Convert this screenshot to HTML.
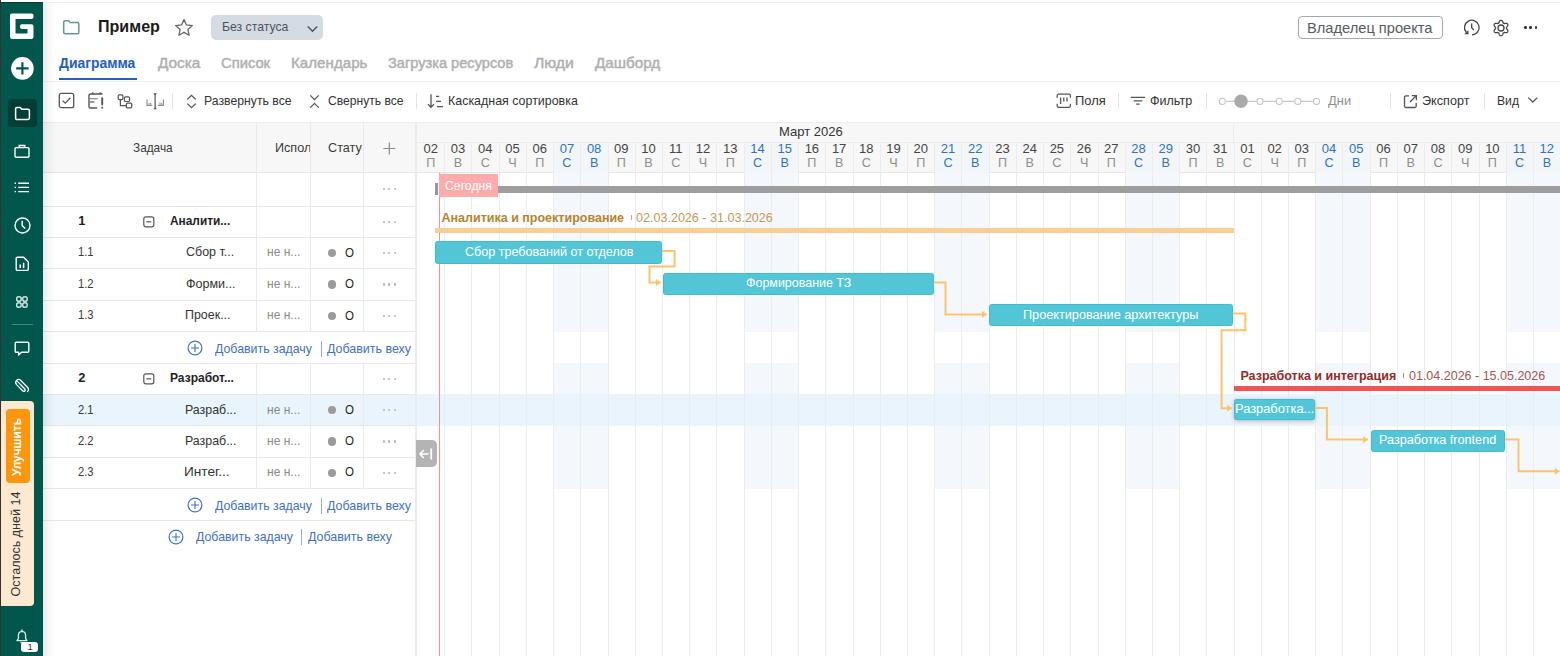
<!DOCTYPE html>
<html><head><meta charset="utf-8"><title>Gantt</title><style>
*{margin:0;padding:0;box-sizing:border-box}
html,body{width:1560px;height:656px;overflow:hidden;background:#fff}
body{position:relative;font-family:"Liberation Sans",sans-serif}
.t{position:absolute;white-space:nowrap}
.r{position:absolute}
.s{position:absolute;overflow:visible}
</style></head><body>
<div class="r" style="left:0.00px;top:2.00px;width:1560.00px;height:1.00px;background:#ececec;"></div>
<div class="r" style="left:42.80px;top:3.00px;width:14.00px;height:653.00px;background:linear-gradient(90deg, rgba(0,0,0,0.085), rgba(0,0,0,0.035) 35%, rgba(0,0,0,0));z-index:5;"></div>
<svg class="s" style="left:62.00px;top:19.00px;" width="19.00" height="16.00" viewBox="0 0 19.00 16.00"><path d="M1.7 3.2 Q1.7 1.7 3.2 1.7 H6.6 L8.3 3.6 H15.3 Q16.8 3.6 16.8 5.1 V13.3 Q16.8 14.8 15.3 14.8 H3.2 Q1.7 14.8 1.7 13.3 Z" fill="none" stroke="#5e9b93" stroke-width="1.5" stroke-linejoin="round"/></svg>
<div id="t1" class="t" style="left:97.84px;top:19.00px;font-size:16.80px;line-height:16.80px;color:#1b1b1b;font-weight:bold;transform:scaleX(0.9578);transform-origin:0 0;">Пример</div>
<svg class="s" style="left:174.00px;top:17.80px;" width="20.00" height="19.00" viewBox="0 0 20.00 19.00"><path d="M10 1.6 L12.45 6.95 L18.3 7.55 L13.9 11.5 L15.15 17.3 L10 14.35 L4.85 17.3 L6.1 11.5 L1.7 7.55 L7.55 6.95 Z" fill="none" stroke="#666" stroke-width="1.3" stroke-linejoin="round"/></svg>
<div class="r" style="left:210.80px;top:15.40px;width:111.80px;height:24.60px;background:#d5dbe2;border-radius:5px;"></div>
<div id="t2" class="t" style="left:222.04px;top:21.00px;font-size:12.80px;line-height:12.80px;color:#4b535d;transform:scaleX(0.9557);transform-origin:0 0;">Без статуса</div>
<svg class="s" style="left:306.00px;top:23.70px;" width="13.00" height="10.00" viewBox="0 0 13.00 10.00"><path d="M1.8 2.5 L6.5 7.2 L11.2 2.5" fill="none" stroke="#4b535d" stroke-width="1.4"/></svg>
<div class="r" style="left:1298.30px;top:16.40px;width:144.30px;height:22.80px;background:#fff;border:1.3px solid #a4aab0;border-radius:4px;box-sizing:border-box;"></div>
<div id="t3" class="t" style="left:1307.18px;top:21.00px;font-size:14.40px;line-height:14.40px;color:#555b62;transform:scaleX(1.0184);transform-origin:0 0;">Владелец проекта</div>
<svg class="s" style="left:1462.00px;top:18.00px;" width="20.00" height="20.00" viewBox="0 0 20.00 20.00"><path d="M10.05 16.80 A7.3 7.3 0 1 0 4.38 14.38" fill="none" stroke="#444" stroke-width="1.3"/><path d="M2.4 16.3 L6.6 16.3 L6.3 12.2 Z" fill="#444"/><path d="M9.7 5.6 V9.8 L11.9 12.1" fill="none" stroke="#444" stroke-width="1.3"/></svg>
<svg class="s" style="left:1492.20px;top:18.50px;" width="18.00" height="18.00" viewBox="0 0 18.00 18.00"><path d="M14.50 9.00 L14.49 9.29 L14.47 9.57 L14.71 9.90 L15.01 10.28 L15.33 10.70 L15.62 11.15 L15.84 11.62 L15.94 12.09 L15.77 12.45 L15.58 12.80 L15.37 13.14 L15.15 13.47 L14.69 13.61 L14.17 13.65 L13.63 13.63 L13.11 13.57 L12.64 13.49 L12.23 13.45 L12.00 13.61 L11.75 13.76 L11.50 13.90 L11.24 14.02 L11.07 14.39 L10.90 14.84 L10.70 15.33 L10.45 15.80 L10.15 16.23 L9.79 16.56 L9.40 16.59 L9.00 16.60 L8.60 16.59 L8.21 16.56 L7.85 16.23 L7.55 15.80 L7.30 15.33 L7.10 14.84 L6.93 14.39 L6.76 14.02 L6.50 13.90 L6.25 13.76 L6.00 13.61 L5.77 13.45 L5.36 13.49 L4.89 13.57 L4.37 13.63 L3.83 13.65 L3.31 13.61 L2.85 13.47 L2.63 13.14 L2.42 12.80 L2.23 12.45 L2.06 12.09 L2.16 11.62 L2.38 11.15 L2.67 10.70 L2.99 10.28 L3.29 9.90 L3.53 9.57 L3.51 9.29 L3.50 9.00 L3.51 8.71 L3.53 8.43 L3.29 8.10 L2.99 7.72 L2.67 7.30 L2.38 6.85 L2.16 6.38 L2.06 5.91 L2.23 5.55 L2.42 5.20 L2.63 4.86 L2.85 4.53 L3.31 4.39 L3.83 4.35 L4.37 4.37 L4.89 4.43 L5.36 4.51 L5.77 4.55 L6.00 4.39 L6.25 4.24 L6.50 4.10 L6.76 3.98 L6.93 3.61 L7.10 3.16 L7.30 2.67 L7.55 2.20 L7.85 1.77 L8.21 1.44 L8.60 1.41 L9.00 1.40 L9.40 1.41 L9.79 1.44 L10.15 1.77 L10.45 2.20 L10.70 2.67 L10.90 3.16 L11.07 3.61 L11.24 3.98 L11.50 4.10 L11.75 4.24 L12.00 4.39 L12.23 4.55 L12.64 4.51 L13.11 4.43 L13.63 4.37 L14.17 4.35 L14.69 4.39 L15.15 4.53 L15.37 4.86 L15.58 5.20 L15.77 5.55 L15.94 5.91 L15.84 6.38 L15.62 6.85 L15.33 7.30 L15.01 7.72 L14.71 8.10 L14.47 8.43 L14.49 8.71 Z" fill="none" stroke="#444" stroke-width="1.3" stroke-linejoin="round"/><circle cx="9" cy="9" r="3" fill="none" stroke="#444" stroke-width="1.3"/></svg>
<div class="r" style="left:1524.20px;top:26.30px;width:2.60px;height:2.60px;background:#333;border-radius:50%;"></div>
<div class="r" style="left:1529.40px;top:26.30px;width:2.60px;height:2.60px;background:#333;border-radius:50%;"></div>
<div class="r" style="left:1534.60px;top:26.30px;width:2.60px;height:2.60px;background:#333;border-radius:50%;"></div>
<div id="t4" class="t" style="left:58.90px;top:56.00px;font-size:14.40px;line-height:14.40px;color:#2360c3;font-weight:bold;transform:scaleX(0.9664);transform-origin:0 0;">Диаграмма</div>
<div class="r" style="left:58.90px;top:77.50px;width:78.00px;height:2.00px;background:#2360c3;"></div>
<div id="t5" class="t" style="left:157.70px;top:56.00px;font-size:14.40px;line-height:14.40px;color:#b0b0b0;transform:scaleX(1.0650);transform-origin:0 0;-webkit-text-stroke:0.45px #b0b0b0;">Доска</div>
<div id="t6" class="t" style="left:221.00px;top:56.00px;font-size:14.40px;line-height:14.40px;color:#b0b0b0;transform:scaleX(1.0250);transform-origin:0 0;-webkit-text-stroke:0.45px #b0b0b0;">Список</div>
<div id="t7" class="t" style="left:291.25px;top:56.00px;font-size:14.40px;line-height:14.40px;color:#b0b0b0;transform:scaleX(1.0529);transform-origin:0 0;-webkit-text-stroke:0.45px #b0b0b0;">Календарь</div>
<div id="t8" class="t" style="left:387.70px;top:56.00px;font-size:14.40px;line-height:14.40px;color:#b0b0b0;transform:scaleX(1.0146);transform-origin:0 0;-webkit-text-stroke:0.45px #b0b0b0;">Загрузка ресурсов</div>
<div id="t9" class="t" style="left:533.80px;top:56.00px;font-size:14.40px;line-height:14.40px;color:#b0b0b0;transform:scaleX(1.0959);transform-origin:0 0;-webkit-text-stroke:0.45px #b0b0b0;">Люди</div>
<div id="t10" class="t" style="left:595.40px;top:56.00px;font-size:14.40px;line-height:14.40px;color:#b0b0b0;transform:scaleX(1.0593);transform-origin:0 0;-webkit-text-stroke:0.45px #b0b0b0;">Дашборд</div>
<div class="r" style="left:43.00px;top:80.50px;width:1517.00px;height:1.00px;background:#efefef;"></div>
<svg class="s" style="left:58.00px;top:91.80px;" width="17.00" height="17.00" viewBox="0 0 17.00 17.00"><rect x="1.3" y="1.3" width="14.4" height="14.4" rx="2" fill="none" stroke="#555" stroke-width="1.3"/><path d="M4.6 8.6 L7.3 11.2 L12.4 5.8" fill="none" stroke="#555" stroke-width="1.3"/></svg>
<svg class="s" style="left:87.00px;top:90.50px;" width="18.00" height="19.00" viewBox="0 0 18.00 19.00"><path d="M10.2 17 H3.5 Q2 17 2 15.5 V4.5 Q2 3 3.5 3 H15.5" fill="none" stroke="#555" stroke-width="1.4"/><path d="M5.3 1.4 L6.6 3 M12.7 1.4 L14 3" stroke="#555" stroke-width="1.3"/><path d="M3 7.7 H10.8" stroke="#8a8a8a" stroke-width="1.2"/><path d="M3 11 H7.5" stroke="#555" stroke-width="1.2"/><path d="M15.2 7.2 V13.6" stroke="#555" stroke-width="1.9" stroke-linecap="round"/><circle cx="15.2" cy="16.7" r="1" fill="#555"/></svg>
<svg class="s" style="left:117.00px;top:94.00px;" width="16.00" height="15.00" viewBox="0 0 16.00 15.00"><rect x="1.2" y="0.9" width="4.7" height="4.7" rx="1" fill="none" stroke="#555" stroke-width="1.2"/><rect x="7.5" y="2.8" width="5" height="4.7" rx="1" fill="none" stroke="#555" stroke-width="1.2"/><rect x="9.4" y="9.2" width="5.3" height="4.6" rx="1" fill="none" stroke="#555" stroke-width="1.3"/><path d="M3.4 5.6 V11.6 H9.4" fill="none" stroke="#555" stroke-width="1.2"/></svg>
<svg class="s" style="left:145.00px;top:92.00px;" width="20.00" height="18.00" viewBox="0 0 20.00 18.00"><path d="M10.1 1.8 V16.6" stroke="#555" stroke-width="1.2"/><path d="M8.2 1.2 H12 L10.1 3.2 Z M8.2 17.2 H12 L10.1 15.2 Z" fill="#555"/><path d="M2 7.6 V13.4 H7.4 M18.4 7.6 V13.4 H13" fill="none" stroke="#8a8a8a" stroke-width="1.1"/><path d="M4 11 V12.6 M5.6 11 V12.6 M15 10.4 V12.6 M16.6 11.2 V12.6" stroke="#8a8a8a" stroke-width="1"/></svg>
<div class="r" style="left:172.30px;top:93.00px;width:1.00px;height:16.00px;background:#e3e3e3;"></div>
<svg class="s" style="left:186.00px;top:93.80px;" width="11.00" height="15.00" viewBox="0 0 11.00 15.00"><path d="M1.3 5.4 L5.5 1.4 L9.7 5.4 M1.3 9.6 L5.5 13.6 L9.7 9.6" fill="none" stroke="#555" stroke-width="1.3"/></svg>
<div id="t11" class="t" style="left:203.63px;top:95.00px;font-size:12.70px;line-height:12.70px;color:#333;transform:scaleX(0.9652);transform-origin:0 0;">Развернуть все</div>
<svg class="s" style="left:308.50px;top:93.80px;" width="11.00" height="15.00" viewBox="0 0 11.00 15.00"><path d="M1.3 1.4 L5.5 5.6 L9.7 1.4 M1.3 13.6 L5.5 9.4 L9.7 13.6" fill="none" stroke="#555" stroke-width="1.3"/></svg>
<div id="t12" class="t" style="left:327.50px;top:95.00px;font-size:12.70px;line-height:12.70px;color:#333;transform:scaleX(0.9544);transform-origin:0 0;">Свернуть все</div>
<div class="r" style="left:416.20px;top:93.00px;width:1.00px;height:16.00px;background:#e3e3e3;"></div>
<svg class="s" style="left:426.50px;top:93.00px;" width="17.00" height="16.00" viewBox="0 0 17.00 16.00"><path d="M4 1.2 V14.2 M1 11.2 L4 14.4 L7 11.2" fill="none" stroke="#555" stroke-width="1.3"/><path d="M9 3.4 H12.2 M9 8.4 H14 M10 13.6 H16" stroke="#555" stroke-width="1.2"/></svg>
<div id="t13" class="t" style="left:447.72px;top:95.00px;font-size:12.70px;line-height:12.70px;color:#333;transform:scaleX(0.9801);transform-origin:0 0;">Каскадная сортировка</div>
<svg class="s" style="left:1056.00px;top:93.00px;" width="16.00" height="16.00" viewBox="0 0 16.00 16.00"><path d="M1.2 4.8 V2.8 Q1.2 1.2 2.8 1.2 H12.8 Q14.4 1.2 14.4 2.8 V4.8 M1.2 10.8 V12.8 Q1.2 14.4 2.8 14.4 H12.8 Q14.4 14.4 14.4 12.8 V10.8" fill="none" stroke="#555" stroke-width="1.3"/><path d="M4.6 4.6 V11 M7.8 4.6 V8.6 M11 4.6 V8.6" stroke="#555" stroke-width="1.3"/></svg>
<div id="t14" class="t" style="left:1074.58px;top:95.00px;font-size:12.70px;line-height:12.70px;color:#333;transform:scaleX(1.0212);transform-origin:0 0;">Поля</div>
<div class="r" style="left:1117.80px;top:93.00px;width:1.00px;height:16.00px;background:#e3e3e3;"></div>
<svg class="s" style="left:1129.50px;top:95.50px;" width="16.00" height="10.00" viewBox="0 0 16.00 10.00"><path d="M0.8 1.4 H15 M3.6 4.8 H12.2 M6.2 8.2 H9.6" stroke="#555" stroke-width="1.3"/></svg>
<div id="t15" class="t" style="left:1150.20px;top:95.00px;font-size:12.70px;line-height:12.70px;color:#333;transform:scaleX(0.9891);transform-origin:0 0;">Фильтр</div>
<div class="r" style="left:1205.50px;top:93.00px;width:1.00px;height:16.00px;background:#e3e3e3;"></div>
<svg class="s" style="left:1218.00px;top:93.00px;" width="104.00" height="17.00" viewBox="0 0 104.00 17.00"><path d="M7.3 8.3 H98.5" stroke="#c8c8c8" stroke-width="1.2"/><circle cx="4.3" cy="8.3" r="3.1" fill="#fff" stroke="#c3c3c3" stroke-width="1.1"/><circle cx="42.0" cy="8.3" r="3.1" fill="#fff" stroke="#c3c3c3" stroke-width="1.1"/><circle cx="61.2" cy="8.3" r="3.1" fill="#fff" stroke="#c3c3c3" stroke-width="1.1"/><circle cx="79.8" cy="8.3" r="3.1" fill="#fff" stroke="#c3c3c3" stroke-width="1.1"/><circle cx="98.5" cy="8.3" r="3.1" fill="#fff" stroke="#c3c3c3" stroke-width="1.1"/><circle cx="23.0" cy="8.3" r="6.7" fill="#a9a9a9"/></svg>
<div id="t16" class="t" style="left:1328.40px;top:95.00px;font-size:12.70px;line-height:12.70px;color:#8f8f8f;transform:scaleX(1.0177);transform-origin:0 0;">Дни</div>
<div class="r" style="left:1390.00px;top:93.00px;width:1.00px;height:16.00px;background:#e3e3e3;"></div>
<svg class="s" style="left:1403.00px;top:93.50px;" width="15.00" height="15.00" viewBox="0 0 15.00 15.00"><path d="M6 1.8 H3 Q1.5 1.8 1.5 3.3 V12 Q1.5 13.5 3 13.5 H11.7 Q13.2 13.5 13.2 12 V9" fill="none" stroke="#555" stroke-width="1.3"/><path d="M7 8 L13 2 M8.8 1.6 H13.4 V6.2" fill="none" stroke="#555" stroke-width="1.3"/></svg>
<div id="t17" class="t" style="left:1422.40px;top:95.00px;font-size:12.70px;line-height:12.70px;color:#333;transform:scaleX(0.9946);transform-origin:0 0;">Экспорт</div>
<div class="r" style="left:1484.00px;top:93.00px;width:1.00px;height:16.00px;background:#e3e3e3;"></div>
<div id="t18" class="t" style="left:1496.64px;top:95.00px;font-size:12.70px;line-height:12.70px;color:#333;transform:scaleX(0.9579);transform-origin:0 0;">Вид</div>
<svg class="s" style="left:1526.50px;top:96.00px;" width="12.00" height="8.00" viewBox="0 0 12.00 8.00"><path d="M1.3 1.6 L5.8 6 L10.3 1.6" fill="none" stroke="#555" stroke-width="1.3"/></svg>
<div class="r" style="left:43.00px;top:122.60px;width:1517.00px;height:50.00px;background:#f7f7f7;"></div>
<div class="r" style="left:43.00px;top:122.10px;width:1517.00px;height:1.00px;background:#ececec;"></div>
<div class="r" style="left:43.00px;top:172.40px;width:1517.00px;height:1.00px;background:#e6e6e6;"></div>
<div class="r" style="left:553.30px;top:142.20px;width:27.22px;height:30.40px;background:#f3f6f9;"></div>
<div class="r" style="left:553.30px;top:172.60px;width:27.22px;height:33.40px;background:#f4f8fc;"></div>
<div class="r" style="left:553.30px;top:206.00px;width:27.22px;height:31.40px;background:#f4f8fc;"></div>
<div class="r" style="left:553.30px;top:237.40px;width:27.22px;height:31.40px;background:#f4f8fc;"></div>
<div class="r" style="left:553.30px;top:268.80px;width:27.22px;height:31.40px;background:#f4f8fc;"></div>
<div class="r" style="left:553.30px;top:300.20px;width:27.22px;height:31.40px;background:#f4f8fc;"></div>
<div class="r" style="left:553.30px;top:363.00px;width:27.22px;height:31.40px;background:#f4f8fc;"></div>
<div class="r" style="left:553.30px;top:425.80px;width:27.22px;height:31.40px;background:#f4f8fc;"></div>
<div class="r" style="left:553.30px;top:457.20px;width:27.22px;height:31.40px;background:#f4f8fc;"></div>
<div class="r" style="left:580.52px;top:142.20px;width:27.22px;height:30.40px;background:#f3f6f9;"></div>
<div class="r" style="left:580.52px;top:172.60px;width:27.22px;height:33.40px;background:#f4f8fc;"></div>
<div class="r" style="left:580.52px;top:206.00px;width:27.22px;height:31.40px;background:#f4f8fc;"></div>
<div class="r" style="left:580.52px;top:237.40px;width:27.22px;height:31.40px;background:#f4f8fc;"></div>
<div class="r" style="left:580.52px;top:268.80px;width:27.22px;height:31.40px;background:#f4f8fc;"></div>
<div class="r" style="left:580.52px;top:300.20px;width:27.22px;height:31.40px;background:#f4f8fc;"></div>
<div class="r" style="left:580.52px;top:363.00px;width:27.22px;height:31.40px;background:#f4f8fc;"></div>
<div class="r" style="left:580.52px;top:425.80px;width:27.22px;height:31.40px;background:#f4f8fc;"></div>
<div class="r" style="left:580.52px;top:457.20px;width:27.22px;height:31.40px;background:#f4f8fc;"></div>
<div class="r" style="left:743.84px;top:142.20px;width:27.22px;height:30.40px;background:#f3f6f9;"></div>
<div class="r" style="left:743.84px;top:172.60px;width:27.22px;height:33.40px;background:#f4f8fc;"></div>
<div class="r" style="left:743.84px;top:206.00px;width:27.22px;height:31.40px;background:#f4f8fc;"></div>
<div class="r" style="left:743.84px;top:237.40px;width:27.22px;height:31.40px;background:#f4f8fc;"></div>
<div class="r" style="left:743.84px;top:268.80px;width:27.22px;height:31.40px;background:#f4f8fc;"></div>
<div class="r" style="left:743.84px;top:300.20px;width:27.22px;height:31.40px;background:#f4f8fc;"></div>
<div class="r" style="left:743.84px;top:363.00px;width:27.22px;height:31.40px;background:#f4f8fc;"></div>
<div class="r" style="left:743.84px;top:425.80px;width:27.22px;height:31.40px;background:#f4f8fc;"></div>
<div class="r" style="left:743.84px;top:457.20px;width:27.22px;height:31.40px;background:#f4f8fc;"></div>
<div class="r" style="left:771.06px;top:142.20px;width:27.22px;height:30.40px;background:#f3f6f9;"></div>
<div class="r" style="left:771.06px;top:172.60px;width:27.22px;height:33.40px;background:#f4f8fc;"></div>
<div class="r" style="left:771.06px;top:206.00px;width:27.22px;height:31.40px;background:#f4f8fc;"></div>
<div class="r" style="left:771.06px;top:237.40px;width:27.22px;height:31.40px;background:#f4f8fc;"></div>
<div class="r" style="left:771.06px;top:268.80px;width:27.22px;height:31.40px;background:#f4f8fc;"></div>
<div class="r" style="left:771.06px;top:300.20px;width:27.22px;height:31.40px;background:#f4f8fc;"></div>
<div class="r" style="left:771.06px;top:363.00px;width:27.22px;height:31.40px;background:#f4f8fc;"></div>
<div class="r" style="left:771.06px;top:425.80px;width:27.22px;height:31.40px;background:#f4f8fc;"></div>
<div class="r" style="left:771.06px;top:457.20px;width:27.22px;height:31.40px;background:#f4f8fc;"></div>
<div class="r" style="left:934.38px;top:142.20px;width:27.22px;height:30.40px;background:#f3f6f9;"></div>
<div class="r" style="left:934.38px;top:172.60px;width:27.22px;height:33.40px;background:#f4f8fc;"></div>
<div class="r" style="left:934.38px;top:206.00px;width:27.22px;height:31.40px;background:#f4f8fc;"></div>
<div class="r" style="left:934.38px;top:237.40px;width:27.22px;height:31.40px;background:#f4f8fc;"></div>
<div class="r" style="left:934.38px;top:268.80px;width:27.22px;height:31.40px;background:#f4f8fc;"></div>
<div class="r" style="left:934.38px;top:300.20px;width:27.22px;height:31.40px;background:#f4f8fc;"></div>
<div class="r" style="left:934.38px;top:363.00px;width:27.22px;height:31.40px;background:#f4f8fc;"></div>
<div class="r" style="left:934.38px;top:425.80px;width:27.22px;height:31.40px;background:#f4f8fc;"></div>
<div class="r" style="left:934.38px;top:457.20px;width:27.22px;height:31.40px;background:#f4f8fc;"></div>
<div class="r" style="left:961.60px;top:142.20px;width:27.22px;height:30.40px;background:#f3f6f9;"></div>
<div class="r" style="left:961.60px;top:172.60px;width:27.22px;height:33.40px;background:#f4f8fc;"></div>
<div class="r" style="left:961.60px;top:206.00px;width:27.22px;height:31.40px;background:#f4f8fc;"></div>
<div class="r" style="left:961.60px;top:237.40px;width:27.22px;height:31.40px;background:#f4f8fc;"></div>
<div class="r" style="left:961.60px;top:268.80px;width:27.22px;height:31.40px;background:#f4f8fc;"></div>
<div class="r" style="left:961.60px;top:300.20px;width:27.22px;height:31.40px;background:#f4f8fc;"></div>
<div class="r" style="left:961.60px;top:363.00px;width:27.22px;height:31.40px;background:#f4f8fc;"></div>
<div class="r" style="left:961.60px;top:425.80px;width:27.22px;height:31.40px;background:#f4f8fc;"></div>
<div class="r" style="left:961.60px;top:457.20px;width:27.22px;height:31.40px;background:#f4f8fc;"></div>
<div class="r" style="left:1124.92px;top:142.20px;width:27.22px;height:30.40px;background:#f3f6f9;"></div>
<div class="r" style="left:1124.92px;top:172.60px;width:27.22px;height:33.40px;background:#f4f8fc;"></div>
<div class="r" style="left:1124.92px;top:206.00px;width:27.22px;height:31.40px;background:#f4f8fc;"></div>
<div class="r" style="left:1124.92px;top:237.40px;width:27.22px;height:31.40px;background:#f4f8fc;"></div>
<div class="r" style="left:1124.92px;top:268.80px;width:27.22px;height:31.40px;background:#f4f8fc;"></div>
<div class="r" style="left:1124.92px;top:300.20px;width:27.22px;height:31.40px;background:#f4f8fc;"></div>
<div class="r" style="left:1124.92px;top:363.00px;width:27.22px;height:31.40px;background:#f4f8fc;"></div>
<div class="r" style="left:1124.92px;top:425.80px;width:27.22px;height:31.40px;background:#f4f8fc;"></div>
<div class="r" style="left:1124.92px;top:457.20px;width:27.22px;height:31.40px;background:#f4f8fc;"></div>
<div class="r" style="left:1152.14px;top:142.20px;width:27.22px;height:30.40px;background:#f3f6f9;"></div>
<div class="r" style="left:1152.14px;top:172.60px;width:27.22px;height:33.40px;background:#f4f8fc;"></div>
<div class="r" style="left:1152.14px;top:206.00px;width:27.22px;height:31.40px;background:#f4f8fc;"></div>
<div class="r" style="left:1152.14px;top:237.40px;width:27.22px;height:31.40px;background:#f4f8fc;"></div>
<div class="r" style="left:1152.14px;top:268.80px;width:27.22px;height:31.40px;background:#f4f8fc;"></div>
<div class="r" style="left:1152.14px;top:300.20px;width:27.22px;height:31.40px;background:#f4f8fc;"></div>
<div class="r" style="left:1152.14px;top:363.00px;width:27.22px;height:31.40px;background:#f4f8fc;"></div>
<div class="r" style="left:1152.14px;top:425.80px;width:27.22px;height:31.40px;background:#f4f8fc;"></div>
<div class="r" style="left:1152.14px;top:457.20px;width:27.22px;height:31.40px;background:#f4f8fc;"></div>
<div class="r" style="left:1315.46px;top:142.20px;width:27.22px;height:30.40px;background:#f3f6f9;"></div>
<div class="r" style="left:1315.46px;top:172.60px;width:27.22px;height:33.40px;background:#f4f8fc;"></div>
<div class="r" style="left:1315.46px;top:206.00px;width:27.22px;height:31.40px;background:#f4f8fc;"></div>
<div class="r" style="left:1315.46px;top:237.40px;width:27.22px;height:31.40px;background:#f4f8fc;"></div>
<div class="r" style="left:1315.46px;top:268.80px;width:27.22px;height:31.40px;background:#f4f8fc;"></div>
<div class="r" style="left:1315.46px;top:300.20px;width:27.22px;height:31.40px;background:#f4f8fc;"></div>
<div class="r" style="left:1315.46px;top:363.00px;width:27.22px;height:31.40px;background:#f4f8fc;"></div>
<div class="r" style="left:1315.46px;top:425.80px;width:27.22px;height:31.40px;background:#f4f8fc;"></div>
<div class="r" style="left:1315.46px;top:457.20px;width:27.22px;height:31.40px;background:#f4f8fc;"></div>
<div class="r" style="left:1342.68px;top:142.20px;width:27.22px;height:30.40px;background:#f3f6f9;"></div>
<div class="r" style="left:1342.68px;top:172.60px;width:27.22px;height:33.40px;background:#f4f8fc;"></div>
<div class="r" style="left:1342.68px;top:206.00px;width:27.22px;height:31.40px;background:#f4f8fc;"></div>
<div class="r" style="left:1342.68px;top:237.40px;width:27.22px;height:31.40px;background:#f4f8fc;"></div>
<div class="r" style="left:1342.68px;top:268.80px;width:27.22px;height:31.40px;background:#f4f8fc;"></div>
<div class="r" style="left:1342.68px;top:300.20px;width:27.22px;height:31.40px;background:#f4f8fc;"></div>
<div class="r" style="left:1342.68px;top:363.00px;width:27.22px;height:31.40px;background:#f4f8fc;"></div>
<div class="r" style="left:1342.68px;top:425.80px;width:27.22px;height:31.40px;background:#f4f8fc;"></div>
<div class="r" style="left:1342.68px;top:457.20px;width:27.22px;height:31.40px;background:#f4f8fc;"></div>
<div class="r" style="left:1506.00px;top:142.20px;width:27.22px;height:30.40px;background:#f3f6f9;"></div>
<div class="r" style="left:1506.00px;top:172.60px;width:27.22px;height:33.40px;background:#f4f8fc;"></div>
<div class="r" style="left:1506.00px;top:206.00px;width:27.22px;height:31.40px;background:#f4f8fc;"></div>
<div class="r" style="left:1506.00px;top:237.40px;width:27.22px;height:31.40px;background:#f4f8fc;"></div>
<div class="r" style="left:1506.00px;top:268.80px;width:27.22px;height:31.40px;background:#f4f8fc;"></div>
<div class="r" style="left:1506.00px;top:300.20px;width:27.22px;height:31.40px;background:#f4f8fc;"></div>
<div class="r" style="left:1506.00px;top:363.00px;width:27.22px;height:31.40px;background:#f4f8fc;"></div>
<div class="r" style="left:1506.00px;top:425.80px;width:27.22px;height:31.40px;background:#f4f8fc;"></div>
<div class="r" style="left:1506.00px;top:457.20px;width:27.22px;height:31.40px;background:#f4f8fc;"></div>
<div class="r" style="left:1533.22px;top:142.20px;width:27.22px;height:30.40px;background:#f3f6f9;"></div>
<div class="r" style="left:1533.22px;top:172.60px;width:27.22px;height:33.40px;background:#f4f8fc;"></div>
<div class="r" style="left:1533.22px;top:206.00px;width:27.22px;height:31.40px;background:#f4f8fc;"></div>
<div class="r" style="left:1533.22px;top:237.40px;width:27.22px;height:31.40px;background:#f4f8fc;"></div>
<div class="r" style="left:1533.22px;top:268.80px;width:27.22px;height:31.40px;background:#f4f8fc;"></div>
<div class="r" style="left:1533.22px;top:300.20px;width:27.22px;height:31.40px;background:#f4f8fc;"></div>
<div class="r" style="left:1533.22px;top:363.00px;width:27.22px;height:31.40px;background:#f4f8fc;"></div>
<div class="r" style="left:1533.22px;top:425.80px;width:27.22px;height:31.40px;background:#f4f8fc;"></div>
<div class="r" style="left:1533.22px;top:457.20px;width:27.22px;height:31.40px;background:#f4f8fc;"></div>
<div class="r" style="left:43.00px;top:394.40px;width:1517.00px;height:31.40px;background:#e9f4fd;"></div>
<div class="r" style="left:444.22px;top:142.20px;width:1.00px;height:513.80px;background:#ececec;"></div>
<div class="r" style="left:471.44px;top:142.20px;width:1.00px;height:513.80px;background:#ececec;"></div>
<div class="r" style="left:498.66px;top:142.20px;width:1.00px;height:513.80px;background:#ececec;"></div>
<div class="r" style="left:525.88px;top:142.20px;width:1.00px;height:513.80px;background:#ececec;"></div>
<div class="r" style="left:553.10px;top:142.20px;width:1.00px;height:513.80px;background:#ececec;"></div>
<div class="r" style="left:580.32px;top:142.20px;width:1.00px;height:513.80px;background:#ececec;"></div>
<div class="r" style="left:607.54px;top:142.20px;width:1.00px;height:513.80px;background:#ececec;"></div>
<div class="r" style="left:634.76px;top:142.20px;width:1.00px;height:513.80px;background:#ececec;"></div>
<div class="r" style="left:661.98px;top:142.20px;width:1.00px;height:513.80px;background:#ececec;"></div>
<div class="r" style="left:689.20px;top:142.20px;width:1.00px;height:513.80px;background:#ececec;"></div>
<div class="r" style="left:716.42px;top:142.20px;width:1.00px;height:513.80px;background:#ececec;"></div>
<div class="r" style="left:743.64px;top:142.20px;width:1.00px;height:513.80px;background:#ececec;"></div>
<div class="r" style="left:770.86px;top:142.20px;width:1.00px;height:513.80px;background:#ececec;"></div>
<div class="r" style="left:798.08px;top:142.20px;width:1.00px;height:513.80px;background:#ececec;"></div>
<div class="r" style="left:825.30px;top:142.20px;width:1.00px;height:513.80px;background:#ececec;"></div>
<div class="r" style="left:852.52px;top:142.20px;width:1.00px;height:513.80px;background:#ececec;"></div>
<div class="r" style="left:879.74px;top:142.20px;width:1.00px;height:513.80px;background:#ececec;"></div>
<div class="r" style="left:906.96px;top:142.20px;width:1.00px;height:513.80px;background:#ececec;"></div>
<div class="r" style="left:934.18px;top:142.20px;width:1.00px;height:513.80px;background:#ececec;"></div>
<div class="r" style="left:961.40px;top:142.20px;width:1.00px;height:513.80px;background:#ececec;"></div>
<div class="r" style="left:988.62px;top:142.20px;width:1.00px;height:513.80px;background:#ececec;"></div>
<div class="r" style="left:1015.84px;top:142.20px;width:1.00px;height:513.80px;background:#ececec;"></div>
<div class="r" style="left:1043.06px;top:142.20px;width:1.00px;height:513.80px;background:#ececec;"></div>
<div class="r" style="left:1070.28px;top:142.20px;width:1.00px;height:513.80px;background:#ececec;"></div>
<div class="r" style="left:1097.50px;top:142.20px;width:1.00px;height:513.80px;background:#ececec;"></div>
<div class="r" style="left:1124.72px;top:142.20px;width:1.00px;height:513.80px;background:#ececec;"></div>
<div class="r" style="left:1151.94px;top:142.20px;width:1.00px;height:513.80px;background:#ececec;"></div>
<div class="r" style="left:1179.16px;top:142.20px;width:1.00px;height:513.80px;background:#ececec;"></div>
<div class="r" style="left:1206.38px;top:142.20px;width:1.00px;height:513.80px;background:#ececec;"></div>
<div class="r" style="left:1233.60px;top:142.20px;width:1.00px;height:513.80px;background:#ececec;"></div>
<div class="r" style="left:1260.82px;top:142.20px;width:1.00px;height:513.80px;background:#ececec;"></div>
<div class="r" style="left:1288.04px;top:142.20px;width:1.00px;height:513.80px;background:#ececec;"></div>
<div class="r" style="left:1315.26px;top:142.20px;width:1.00px;height:513.80px;background:#ececec;"></div>
<div class="r" style="left:1342.48px;top:142.20px;width:1.00px;height:513.80px;background:#ececec;"></div>
<div class="r" style="left:1369.70px;top:142.20px;width:1.00px;height:513.80px;background:#ececec;"></div>
<div class="r" style="left:1396.92px;top:142.20px;width:1.00px;height:513.80px;background:#ececec;"></div>
<div class="r" style="left:1424.14px;top:142.20px;width:1.00px;height:513.80px;background:#ececec;"></div>
<div class="r" style="left:1451.36px;top:142.20px;width:1.00px;height:513.80px;background:#ececec;"></div>
<div class="r" style="left:1478.58px;top:142.20px;width:1.00px;height:513.80px;background:#ececec;"></div>
<div class="r" style="left:1505.80px;top:142.20px;width:1.00px;height:513.80px;background:#ececec;"></div>
<div class="r" style="left:1533.02px;top:142.20px;width:1.00px;height:513.80px;background:#ececec;"></div>
<div class="r" style="left:1560.24px;top:142.20px;width:1.00px;height:513.80px;background:#ececec;"></div>
<div class="r" style="left:1233.30px;top:122.60px;width:1.00px;height:20.00px;background:#ececec;"></div>
<div class="r" style="left:417.20px;top:141.70px;width:1142.80px;height:1.00px;background:#ececec;"></div>
<div id="t19" class="t" style="left:779.47px;top:126.00px;font-size:12.60px;line-height:12.60px;color:#333;transform:scaleX(1.0323);transform-origin:0 0;">Март 2026</div>
<div id="t20" class="t" style="left:430.81px;top:142.00px;font-size:13.00px;line-height:13.00px;color:#444;transform:translateX(-50%);">02</div>
<div id="t21" class="t" style="left:430.81px;top:157.00px;font-size:12.60px;line-height:12.60px;color:#8e8e8e;transform:translateX(-50%);">П</div>
<div id="t22" class="t" style="left:458.03px;top:142.00px;font-size:13.00px;line-height:13.00px;color:#444;transform:translateX(-50%);">03</div>
<div id="t23" class="t" style="left:458.03px;top:157.00px;font-size:12.60px;line-height:12.60px;color:#8e8e8e;transform:translateX(-50%);">В</div>
<div id="t24" class="t" style="left:485.25px;top:142.00px;font-size:13.00px;line-height:13.00px;color:#444;transform:translateX(-50%);">04</div>
<div id="t25" class="t" style="left:485.25px;top:157.00px;font-size:12.60px;line-height:12.60px;color:#8e8e8e;transform:translateX(-50%);">С</div>
<div id="t26" class="t" style="left:512.47px;top:142.00px;font-size:13.00px;line-height:13.00px;color:#444;transform:translateX(-50%);">05</div>
<div id="t27" class="t" style="left:512.47px;top:157.00px;font-size:12.60px;line-height:12.60px;color:#8e8e8e;transform:translateX(-50%);">Ч</div>
<div id="t28" class="t" style="left:539.69px;top:142.00px;font-size:13.00px;line-height:13.00px;color:#444;transform:translateX(-50%);">06</div>
<div id="t29" class="t" style="left:539.69px;top:157.00px;font-size:12.60px;line-height:12.60px;color:#8e8e8e;transform:translateX(-50%);">П</div>
<div id="t30" class="t" style="left:566.91px;top:142.00px;font-size:13.00px;line-height:13.00px;color:#3172c9;transform:translateX(-50%);">07</div>
<div id="t31" class="t" style="left:566.91px;top:157.00px;font-size:12.60px;line-height:12.60px;color:#3172c9;transform:translateX(-50%);">С</div>
<div id="t32" class="t" style="left:594.13px;top:142.00px;font-size:13.00px;line-height:13.00px;color:#3172c9;transform:translateX(-50%);">08</div>
<div id="t33" class="t" style="left:594.13px;top:157.00px;font-size:12.60px;line-height:12.60px;color:#3172c9;transform:translateX(-50%);">В</div>
<div id="t34" class="t" style="left:621.35px;top:142.00px;font-size:13.00px;line-height:13.00px;color:#444;transform:translateX(-50%);">09</div>
<div id="t35" class="t" style="left:621.35px;top:157.00px;font-size:12.60px;line-height:12.60px;color:#8e8e8e;transform:translateX(-50%);">П</div>
<div id="t36" class="t" style="left:648.57px;top:142.00px;font-size:13.00px;line-height:13.00px;color:#444;transform:translateX(-50%);">10</div>
<div id="t37" class="t" style="left:648.57px;top:157.00px;font-size:12.60px;line-height:12.60px;color:#8e8e8e;transform:translateX(-50%);">В</div>
<div id="t38" class="t" style="left:675.79px;top:142.00px;font-size:13.00px;line-height:13.00px;color:#444;transform:translateX(-50%);">11</div>
<div id="t39" class="t" style="left:675.79px;top:157.00px;font-size:12.60px;line-height:12.60px;color:#8e8e8e;transform:translateX(-50%);">С</div>
<div id="t40" class="t" style="left:703.01px;top:142.00px;font-size:13.00px;line-height:13.00px;color:#444;transform:translateX(-50%);">12</div>
<div id="t41" class="t" style="left:703.01px;top:157.00px;font-size:12.60px;line-height:12.60px;color:#8e8e8e;transform:translateX(-50%);">Ч</div>
<div id="t42" class="t" style="left:730.23px;top:142.00px;font-size:13.00px;line-height:13.00px;color:#444;transform:translateX(-50%);">13</div>
<div id="t43" class="t" style="left:730.23px;top:157.00px;font-size:12.60px;line-height:12.60px;color:#8e8e8e;transform:translateX(-50%);">П</div>
<div id="t44" class="t" style="left:757.45px;top:142.00px;font-size:13.00px;line-height:13.00px;color:#3172c9;transform:translateX(-50%);">14</div>
<div id="t45" class="t" style="left:757.45px;top:157.00px;font-size:12.60px;line-height:12.60px;color:#3172c9;transform:translateX(-50%);">С</div>
<div id="t46" class="t" style="left:784.67px;top:142.00px;font-size:13.00px;line-height:13.00px;color:#3172c9;transform:translateX(-50%);">15</div>
<div id="t47" class="t" style="left:784.67px;top:157.00px;font-size:12.60px;line-height:12.60px;color:#3172c9;transform:translateX(-50%);">В</div>
<div id="t48" class="t" style="left:811.89px;top:142.00px;font-size:13.00px;line-height:13.00px;color:#444;transform:translateX(-50%);">16</div>
<div id="t49" class="t" style="left:811.89px;top:157.00px;font-size:12.60px;line-height:12.60px;color:#8e8e8e;transform:translateX(-50%);">П</div>
<div id="t50" class="t" style="left:839.11px;top:142.00px;font-size:13.00px;line-height:13.00px;color:#444;transform:translateX(-50%);">17</div>
<div id="t51" class="t" style="left:839.11px;top:157.00px;font-size:12.60px;line-height:12.60px;color:#8e8e8e;transform:translateX(-50%);">В</div>
<div id="t52" class="t" style="left:866.33px;top:142.00px;font-size:13.00px;line-height:13.00px;color:#444;transform:translateX(-50%);">18</div>
<div id="t53" class="t" style="left:866.33px;top:157.00px;font-size:12.60px;line-height:12.60px;color:#8e8e8e;transform:translateX(-50%);">С</div>
<div id="t54" class="t" style="left:893.55px;top:142.00px;font-size:13.00px;line-height:13.00px;color:#444;transform:translateX(-50%);">19</div>
<div id="t55" class="t" style="left:893.55px;top:157.00px;font-size:12.60px;line-height:12.60px;color:#8e8e8e;transform:translateX(-50%);">Ч</div>
<div id="t56" class="t" style="left:920.77px;top:142.00px;font-size:13.00px;line-height:13.00px;color:#444;transform:translateX(-50%);">20</div>
<div id="t57" class="t" style="left:920.77px;top:157.00px;font-size:12.60px;line-height:12.60px;color:#8e8e8e;transform:translateX(-50%);">П</div>
<div id="t58" class="t" style="left:947.99px;top:142.00px;font-size:13.00px;line-height:13.00px;color:#3172c9;transform:translateX(-50%);">21</div>
<div id="t59" class="t" style="left:947.99px;top:157.00px;font-size:12.60px;line-height:12.60px;color:#3172c9;transform:translateX(-50%);">С</div>
<div id="t60" class="t" style="left:975.21px;top:142.00px;font-size:13.00px;line-height:13.00px;color:#3172c9;transform:translateX(-50%);">22</div>
<div id="t61" class="t" style="left:975.21px;top:157.00px;font-size:12.60px;line-height:12.60px;color:#3172c9;transform:translateX(-50%);">В</div>
<div id="t62" class="t" style="left:1002.43px;top:142.00px;font-size:13.00px;line-height:13.00px;color:#444;transform:translateX(-50%);">23</div>
<div id="t63" class="t" style="left:1002.43px;top:157.00px;font-size:12.60px;line-height:12.60px;color:#8e8e8e;transform:translateX(-50%);">П</div>
<div id="t64" class="t" style="left:1029.65px;top:142.00px;font-size:13.00px;line-height:13.00px;color:#444;transform:translateX(-50%);">24</div>
<div id="t65" class="t" style="left:1029.65px;top:157.00px;font-size:12.60px;line-height:12.60px;color:#8e8e8e;transform:translateX(-50%);">В</div>
<div id="t66" class="t" style="left:1056.87px;top:142.00px;font-size:13.00px;line-height:13.00px;color:#444;transform:translateX(-50%);">25</div>
<div id="t67" class="t" style="left:1056.87px;top:157.00px;font-size:12.60px;line-height:12.60px;color:#8e8e8e;transform:translateX(-50%);">С</div>
<div id="t68" class="t" style="left:1084.09px;top:142.00px;font-size:13.00px;line-height:13.00px;color:#444;transform:translateX(-50%);">26</div>
<div id="t69" class="t" style="left:1084.09px;top:157.00px;font-size:12.60px;line-height:12.60px;color:#8e8e8e;transform:translateX(-50%);">Ч</div>
<div id="t70" class="t" style="left:1111.31px;top:142.00px;font-size:13.00px;line-height:13.00px;color:#444;transform:translateX(-50%);">27</div>
<div id="t71" class="t" style="left:1111.31px;top:157.00px;font-size:12.60px;line-height:12.60px;color:#8e8e8e;transform:translateX(-50%);">П</div>
<div id="t72" class="t" style="left:1138.53px;top:142.00px;font-size:13.00px;line-height:13.00px;color:#3172c9;transform:translateX(-50%);">28</div>
<div id="t73" class="t" style="left:1138.53px;top:157.00px;font-size:12.60px;line-height:12.60px;color:#3172c9;transform:translateX(-50%);">С</div>
<div id="t74" class="t" style="left:1165.75px;top:142.00px;font-size:13.00px;line-height:13.00px;color:#3172c9;transform:translateX(-50%);">29</div>
<div id="t75" class="t" style="left:1165.75px;top:157.00px;font-size:12.60px;line-height:12.60px;color:#3172c9;transform:translateX(-50%);">В</div>
<div id="t76" class="t" style="left:1192.97px;top:142.00px;font-size:13.00px;line-height:13.00px;color:#444;transform:translateX(-50%);">30</div>
<div id="t77" class="t" style="left:1192.97px;top:157.00px;font-size:12.60px;line-height:12.60px;color:#8e8e8e;transform:translateX(-50%);">П</div>
<div id="t78" class="t" style="left:1220.19px;top:142.00px;font-size:13.00px;line-height:13.00px;color:#444;transform:translateX(-50%);">31</div>
<div id="t79" class="t" style="left:1220.19px;top:157.00px;font-size:12.60px;line-height:12.60px;color:#8e8e8e;transform:translateX(-50%);">В</div>
<div id="t80" class="t" style="left:1247.41px;top:142.00px;font-size:13.00px;line-height:13.00px;color:#444;transform:translateX(-50%);">01</div>
<div id="t81" class="t" style="left:1247.41px;top:157.00px;font-size:12.60px;line-height:12.60px;color:#8e8e8e;transform:translateX(-50%);">С</div>
<div id="t82" class="t" style="left:1274.63px;top:142.00px;font-size:13.00px;line-height:13.00px;color:#444;transform:translateX(-50%);">02</div>
<div id="t83" class="t" style="left:1274.63px;top:157.00px;font-size:12.60px;line-height:12.60px;color:#8e8e8e;transform:translateX(-50%);">Ч</div>
<div id="t84" class="t" style="left:1301.85px;top:142.00px;font-size:13.00px;line-height:13.00px;color:#444;transform:translateX(-50%);">03</div>
<div id="t85" class="t" style="left:1301.85px;top:157.00px;font-size:12.60px;line-height:12.60px;color:#8e8e8e;transform:translateX(-50%);">П</div>
<div id="t86" class="t" style="left:1329.07px;top:142.00px;font-size:13.00px;line-height:13.00px;color:#3172c9;transform:translateX(-50%);">04</div>
<div id="t87" class="t" style="left:1329.07px;top:157.00px;font-size:12.60px;line-height:12.60px;color:#3172c9;transform:translateX(-50%);">С</div>
<div id="t88" class="t" style="left:1356.29px;top:142.00px;font-size:13.00px;line-height:13.00px;color:#3172c9;transform:translateX(-50%);">05</div>
<div id="t89" class="t" style="left:1356.29px;top:157.00px;font-size:12.60px;line-height:12.60px;color:#3172c9;transform:translateX(-50%);">В</div>
<div id="t90" class="t" style="left:1383.51px;top:142.00px;font-size:13.00px;line-height:13.00px;color:#444;transform:translateX(-50%);">06</div>
<div id="t91" class="t" style="left:1383.51px;top:157.00px;font-size:12.60px;line-height:12.60px;color:#8e8e8e;transform:translateX(-50%);">П</div>
<div id="t92" class="t" style="left:1410.73px;top:142.00px;font-size:13.00px;line-height:13.00px;color:#444;transform:translateX(-50%);">07</div>
<div id="t93" class="t" style="left:1410.73px;top:157.00px;font-size:12.60px;line-height:12.60px;color:#8e8e8e;transform:translateX(-50%);">В</div>
<div id="t94" class="t" style="left:1437.95px;top:142.00px;font-size:13.00px;line-height:13.00px;color:#444;transform:translateX(-50%);">08</div>
<div id="t95" class="t" style="left:1437.95px;top:157.00px;font-size:12.60px;line-height:12.60px;color:#8e8e8e;transform:translateX(-50%);">С</div>
<div id="t96" class="t" style="left:1465.17px;top:142.00px;font-size:13.00px;line-height:13.00px;color:#444;transform:translateX(-50%);">09</div>
<div id="t97" class="t" style="left:1465.17px;top:157.00px;font-size:12.60px;line-height:12.60px;color:#8e8e8e;transform:translateX(-50%);">Ч</div>
<div id="t98" class="t" style="left:1492.39px;top:142.00px;font-size:13.00px;line-height:13.00px;color:#444;transform:translateX(-50%);">10</div>
<div id="t99" class="t" style="left:1492.39px;top:157.00px;font-size:12.60px;line-height:12.60px;color:#8e8e8e;transform:translateX(-50%);">П</div>
<div id="t100" class="t" style="left:1519.61px;top:142.00px;font-size:13.00px;line-height:13.00px;color:#3172c9;transform:translateX(-50%);">11</div>
<div id="t101" class="t" style="left:1519.61px;top:157.00px;font-size:12.60px;line-height:12.60px;color:#3172c9;transform:translateX(-50%);">С</div>
<div id="t102" class="t" style="left:1546.83px;top:142.00px;font-size:13.00px;line-height:13.00px;color:#3172c9;transform:translateX(-50%);">12</div>
<div id="t103" class="t" style="left:1546.83px;top:157.00px;font-size:12.60px;line-height:12.60px;color:#3172c9;transform:translateX(-50%);">В</div>
<div class="r" style="left:43.00px;top:205.50px;width:373.00px;height:1.00px;background:#e8e8e8;"></div>
<div class="r" style="left:43.00px;top:236.90px;width:373.00px;height:1.00px;background:#e8e8e8;"></div>
<div class="r" style="left:43.00px;top:268.30px;width:373.00px;height:1.00px;background:#e8e8e8;"></div>
<div class="r" style="left:43.00px;top:299.70px;width:373.00px;height:1.00px;background:#e8e8e8;"></div>
<div class="r" style="left:43.00px;top:331.10px;width:373.00px;height:1.00px;background:#e8e8e8;"></div>
<div class="r" style="left:43.00px;top:362.50px;width:373.00px;height:1.00px;background:#e8e8e8;"></div>
<div class="r" style="left:43.00px;top:393.90px;width:373.00px;height:1.00px;background:#e8e8e8;"></div>
<div class="r" style="left:43.00px;top:425.30px;width:373.00px;height:1.00px;background:#e8e8e8;"></div>
<div class="r" style="left:43.00px;top:456.70px;width:373.00px;height:1.00px;background:#e8e8e8;"></div>
<div class="r" style="left:43.00px;top:488.10px;width:373.00px;height:1.00px;background:#e8e8e8;"></div>
<div class="r" style="left:43.00px;top:519.50px;width:373.00px;height:1.00px;background:#e8e8e8;"></div>
<div class="r" style="left:256.30px;top:122.60px;width:1.00px;height:50.00px;background:#e9e9e9;"></div>
<div class="r" style="left:256.30px;top:172.60px;width:1.00px;height:33.40px;background:#eaeaea;"></div>
<div class="r" style="left:256.30px;top:206.00px;width:1.00px;height:31.40px;background:#eaeaea;"></div>
<div class="r" style="left:256.30px;top:237.40px;width:1.00px;height:31.40px;background:#eaeaea;"></div>
<div class="r" style="left:256.30px;top:268.80px;width:1.00px;height:31.40px;background:#eaeaea;"></div>
<div class="r" style="left:256.30px;top:300.20px;width:1.00px;height:31.40px;background:#eaeaea;"></div>
<div class="r" style="left:256.30px;top:363.00px;width:1.00px;height:31.40px;background:#eaeaea;"></div>
<div class="r" style="left:256.30px;top:394.40px;width:1.00px;height:31.40px;background:#eaeaea;"></div>
<div class="r" style="left:256.30px;top:425.80px;width:1.00px;height:31.40px;background:#eaeaea;"></div>
<div class="r" style="left:256.30px;top:457.20px;width:1.00px;height:31.40px;background:#eaeaea;"></div>
<div class="r" style="left:310.20px;top:122.60px;width:1.00px;height:50.00px;background:#e9e9e9;"></div>
<div class="r" style="left:310.20px;top:172.60px;width:1.00px;height:33.40px;background:#eaeaea;"></div>
<div class="r" style="left:310.20px;top:206.00px;width:1.00px;height:31.40px;background:#eaeaea;"></div>
<div class="r" style="left:310.20px;top:237.40px;width:1.00px;height:31.40px;background:#eaeaea;"></div>
<div class="r" style="left:310.20px;top:268.80px;width:1.00px;height:31.40px;background:#eaeaea;"></div>
<div class="r" style="left:310.20px;top:300.20px;width:1.00px;height:31.40px;background:#eaeaea;"></div>
<div class="r" style="left:310.20px;top:363.00px;width:1.00px;height:31.40px;background:#eaeaea;"></div>
<div class="r" style="left:310.20px;top:394.40px;width:1.00px;height:31.40px;background:#eaeaea;"></div>
<div class="r" style="left:310.20px;top:425.80px;width:1.00px;height:31.40px;background:#eaeaea;"></div>
<div class="r" style="left:310.20px;top:457.20px;width:1.00px;height:31.40px;background:#eaeaea;"></div>
<div class="r" style="left:363.10px;top:122.60px;width:1.00px;height:50.00px;background:#e9e9e9;"></div>
<div class="r" style="left:363.10px;top:172.60px;width:1.00px;height:33.40px;background:#eaeaea;"></div>
<div class="r" style="left:363.10px;top:206.00px;width:1.00px;height:31.40px;background:#eaeaea;"></div>
<div class="r" style="left:363.10px;top:237.40px;width:1.00px;height:31.40px;background:#eaeaea;"></div>
<div class="r" style="left:363.10px;top:268.80px;width:1.00px;height:31.40px;background:#eaeaea;"></div>
<div class="r" style="left:363.10px;top:300.20px;width:1.00px;height:31.40px;background:#eaeaea;"></div>
<div class="r" style="left:363.10px;top:363.00px;width:1.00px;height:31.40px;background:#eaeaea;"></div>
<div class="r" style="left:363.10px;top:394.40px;width:1.00px;height:31.40px;background:#eaeaea;"></div>
<div class="r" style="left:363.10px;top:425.80px;width:1.00px;height:31.40px;background:#eaeaea;"></div>
<div class="r" style="left:363.10px;top:457.20px;width:1.00px;height:31.40px;background:#eaeaea;"></div>
<div class="r" style="left:415.20px;top:122.60px;width:2.20px;height:533.40px;background:#ececec;"></div>
<div id="t104" class="t" style="left:133.00px;top:142.00px;font-size:12.60px;line-height:12.60px;color:#3a3a3a;transform:scaleX(0.9373);transform-origin:0 0;">Задача</div>
<div id="t105" class="t" style="left:275.00px;top:142.00px;font-size:12.60px;line-height:12.60px;color:#3a3a3a;"><span style="display:inline-block;width:35px;overflow:hidden;vertical-align:top">Исполнитель</span></div>
<div id="t106" class="t" style="left:328.10px;top:142.00px;font-size:12.60px;line-height:12.60px;color:#3a3a3a;"><span style="display:inline-block;width:34px;overflow:hidden;vertical-align:top">Статус</span></div>
<svg class="s" style="left:381.00px;top:140.00px;" width="17.00" height="17.00" viewBox="0 0 17.00 17.00"><path d="M8.3 2.5 V14.5 M2.3 8.5 H14.3" stroke="#8a8a8a" stroke-width="1.2"/></svg>
<div class="r" style="left:382.50px;top:188.20px;width:2.20px;height:2.20px;background:#b5b5b5;border-radius:50%;"></div>
<div class="r" style="left:388.10px;top:188.20px;width:2.20px;height:2.20px;background:#b5b5b5;border-radius:50%;"></div>
<div class="r" style="left:393.70px;top:188.20px;width:2.20px;height:2.20px;background:#b5b5b5;border-radius:50%;"></div>
<div id="t107" class="t" style="left:78.30px;top:215.00px;font-size:12.80px;line-height:12.80px;color:#1e1e1e;font-weight:bold;">1</div>
<svg class="s" style="left:142.60px;top:216.30px;" width="12.00" height="12.00" viewBox="0 0 12.00 12.00"><rect x="0.8" y="0.8" width="10" height="10" rx="2" fill="none" stroke="#555" stroke-width="1.2"/><path d="M3.3 5.8 H8.3" stroke="#555" stroke-width="1.2"/></svg>
<div id="t108" class="t" style="left:169.90px;top:215.00px;font-size:12.80px;line-height:12.80px;color:#1e1e1e;font-weight:bold;transform:scaleX(0.9280);transform-origin:0 0;">Аналити...</div>
<div class="r" style="left:382.50px;top:220.60px;width:2.20px;height:2.20px;background:#b5b5b5;border-radius:50%;"></div>
<div class="r" style="left:388.10px;top:220.60px;width:2.20px;height:2.20px;background:#b5b5b5;border-radius:50%;"></div>
<div class="r" style="left:393.70px;top:220.60px;width:2.20px;height:2.20px;background:#b5b5b5;border-radius:50%;"></div>
<div id="t109" class="t" style="left:78.30px;top:246.00px;font-size:12.80px;line-height:12.80px;color:#3a3a3a;transform:scaleX(0.8771);transform-origin:0 0;">1.1</div>
<div id="t110" class="t" style="left:185.50px;top:246.00px;font-size:12.80px;line-height:12.80px;color:#333;transform:scaleX(0.9752);transform-origin:0 0;">Сбор т...</div>
<div id="t111" class="t" style="left:266.50px;top:246.00px;font-size:12.80px;line-height:12.80px;color:#8a8a8a;transform:scaleX(0.9394);transform-origin:0 0;">не н...</div>
<div class="r" style="left:327.80px;top:248.80px;width:8.60px;height:8.60px;background:#9b9b9b;border-radius:50%;"></div>
<div id="t112" class="t" style="left:345.30px;top:247.00px;font-size:12.80px;line-height:12.80px;color:#222;transform:scaleX(0.9000);transform-origin:0 0;">О</div>
<div class="r" style="left:382.50px;top:252.00px;width:2.20px;height:2.20px;background:#b5b5b5;border-radius:50%;"></div>
<div class="r" style="left:388.10px;top:252.00px;width:2.20px;height:2.20px;background:#b5b5b5;border-radius:50%;"></div>
<div class="r" style="left:393.70px;top:252.00px;width:2.20px;height:2.20px;background:#b5b5b5;border-radius:50%;"></div>
<div id="t113" class="t" style="left:78.30px;top:278.00px;font-size:12.80px;line-height:12.80px;color:#3a3a3a;transform:scaleX(0.8771);transform-origin:0 0;">1.2</div>
<div id="t114" class="t" style="left:185.50px;top:278.00px;font-size:12.80px;line-height:12.80px;color:#333;transform:scaleX(0.9796);transform-origin:0 0;">Форми...</div>
<div id="t115" class="t" style="left:266.50px;top:278.00px;font-size:12.80px;line-height:12.80px;color:#8a8a8a;transform:scaleX(0.9394);transform-origin:0 0;">не н...</div>
<div class="r" style="left:327.80px;top:280.20px;width:8.60px;height:8.60px;background:#9b9b9b;border-radius:50%;"></div>
<div id="t116" class="t" style="left:345.30px;top:278.00px;font-size:12.80px;line-height:12.80px;color:#222;transform:scaleX(0.9000);transform-origin:0 0;">О</div>
<div class="r" style="left:382.50px;top:283.40px;width:2.20px;height:2.20px;background:#b5b5b5;border-radius:50%;"></div>
<div class="r" style="left:388.10px;top:283.40px;width:2.20px;height:2.20px;background:#b5b5b5;border-radius:50%;"></div>
<div class="r" style="left:393.70px;top:283.40px;width:2.20px;height:2.20px;background:#b5b5b5;border-radius:50%;"></div>
<div id="t117" class="t" style="left:78.30px;top:309.00px;font-size:12.80px;line-height:12.80px;color:#3a3a3a;transform:scaleX(0.8771);transform-origin:0 0;">1.3</div>
<div id="t118" class="t" style="left:184.53px;top:309.00px;font-size:12.80px;line-height:12.80px;color:#333;transform:scaleX(0.9722);transform-origin:0 0;">Проек...</div>
<div id="t119" class="t" style="left:266.50px;top:309.00px;font-size:12.80px;line-height:12.80px;color:#8a8a8a;transform:scaleX(0.9394);transform-origin:0 0;">не н...</div>
<div class="r" style="left:327.80px;top:311.60px;width:8.60px;height:8.60px;background:#9b9b9b;border-radius:50%;"></div>
<div id="t120" class="t" style="left:345.30px;top:310.00px;font-size:12.80px;line-height:12.80px;color:#222;transform:scaleX(0.9000);transform-origin:0 0;">О</div>
<div class="r" style="left:382.50px;top:314.80px;width:2.20px;height:2.20px;background:#b5b5b5;border-radius:50%;"></div>
<div class="r" style="left:388.10px;top:314.80px;width:2.20px;height:2.20px;background:#b5b5b5;border-radius:50%;"></div>
<div class="r" style="left:393.70px;top:314.80px;width:2.20px;height:2.20px;background:#b5b5b5;border-radius:50%;"></div>
<svg class="s" style="left:187.20px;top:340.40px;" width="16.00" height="16.00" viewBox="0 0 16.00 16.00"><circle cx="8" cy="8" r="6.9" fill="none" stroke="#3d72c9" stroke-width="1.2"/><path d="M8 4 V12 M4 8 H12" stroke="#3d72c9" stroke-width="1.1"/></svg>
<div id="t121" class="t" style="left:215.10px;top:343.00px;font-size:12.80px;line-height:12.80px;color:#3e70c5;transform:scaleX(0.9647);transform-origin:0 0;">Добавить задачу</div>
<div class="r" style="left:320.50px;top:340.90px;width:1.20px;height:16.00px;background:#8eafe2;"></div>
<div id="t122" class="t" style="left:326.90px;top:343.00px;font-size:12.80px;line-height:12.80px;color:#3e70c5;transform:scaleX(0.9724);transform-origin:0 0;">Добавить веху</div>
<div id="t123" class="t" style="left:78.30px;top:372.00px;font-size:12.80px;line-height:12.80px;color:#1e1e1e;font-weight:bold;">2</div>
<svg class="s" style="left:142.60px;top:373.30px;" width="12.00" height="12.00" viewBox="0 0 12.00 12.00"><rect x="0.8" y="0.8" width="10" height="10" rx="2" fill="none" stroke="#555" stroke-width="1.2"/><path d="M3.3 5.8 H8.3" stroke="#555" stroke-width="1.2"/></svg>
<div id="t124" class="t" style="left:169.90px;top:372.00px;font-size:12.80px;line-height:12.80px;color:#1e1e1e;font-weight:bold;transform:scaleX(0.9380);transform-origin:0 0;">Разработ...</div>
<div class="r" style="left:382.50px;top:377.60px;width:2.20px;height:2.20px;background:#b5b5b5;border-radius:50%;"></div>
<div class="r" style="left:388.10px;top:377.60px;width:2.20px;height:2.20px;background:#b5b5b5;border-radius:50%;"></div>
<div class="r" style="left:393.70px;top:377.60px;width:2.20px;height:2.20px;background:#b5b5b5;border-radius:50%;"></div>
<div id="t125" class="t" style="left:78.30px;top:404.00px;font-size:12.80px;line-height:12.80px;color:#3a3a3a;transform:scaleX(0.8771);transform-origin:0 0;">2.1</div>
<div id="t126" class="t" style="left:184.53px;top:404.00px;font-size:12.80px;line-height:12.80px;color:#333;transform:scaleX(0.9685);transform-origin:0 0;">Разраб...</div>
<div id="t127" class="t" style="left:266.50px;top:404.00px;font-size:12.80px;line-height:12.80px;color:#8a8a8a;transform:scaleX(0.9394);transform-origin:0 0;">не н...</div>
<div class="r" style="left:327.80px;top:405.80px;width:8.60px;height:8.60px;background:#9b9b9b;border-radius:50%;"></div>
<div id="t128" class="t" style="left:345.30px;top:404.00px;font-size:12.80px;line-height:12.80px;color:#222;transform:scaleX(0.9000);transform-origin:0 0;">О</div>
<div class="r" style="left:382.50px;top:409.00px;width:2.20px;height:2.20px;background:#b5b5b5;border-radius:50%;"></div>
<div class="r" style="left:388.10px;top:409.00px;width:2.20px;height:2.20px;background:#b5b5b5;border-radius:50%;"></div>
<div class="r" style="left:393.70px;top:409.00px;width:2.20px;height:2.20px;background:#b5b5b5;border-radius:50%;"></div>
<div id="t129" class="t" style="left:78.30px;top:435.00px;font-size:12.80px;line-height:12.80px;color:#3a3a3a;transform:scaleX(0.8771);transform-origin:0 0;">2.2</div>
<div id="t130" class="t" style="left:184.53px;top:435.00px;font-size:12.80px;line-height:12.80px;color:#333;transform:scaleX(0.9685);transform-origin:0 0;">Разраб...</div>
<div id="t131" class="t" style="left:266.50px;top:435.00px;font-size:12.80px;line-height:12.80px;color:#8a8a8a;transform:scaleX(0.9394);transform-origin:0 0;">не н...</div>
<div class="r" style="left:327.80px;top:437.20px;width:8.60px;height:8.60px;background:#9b9b9b;border-radius:50%;"></div>
<div id="t132" class="t" style="left:345.30px;top:435.00px;font-size:12.80px;line-height:12.80px;color:#222;transform:scaleX(0.9000);transform-origin:0 0;">О</div>
<div class="r" style="left:382.50px;top:440.40px;width:2.20px;height:2.20px;background:#b5b5b5;border-radius:50%;"></div>
<div class="r" style="left:388.10px;top:440.40px;width:2.20px;height:2.20px;background:#b5b5b5;border-radius:50%;"></div>
<div class="r" style="left:393.70px;top:440.40px;width:2.20px;height:2.20px;background:#b5b5b5;border-radius:50%;"></div>
<div id="t133" class="t" style="left:78.30px;top:466.00px;font-size:12.80px;line-height:12.80px;color:#3a3a3a;transform:scaleX(0.8771);transform-origin:0 0;">2.3</div>
<div id="t134" class="t" style="left:184.44px;top:466.00px;font-size:12.80px;line-height:12.80px;color:#333;transform:scaleX(1.0650);transform-origin:0 0;">Интег...</div>
<div id="t135" class="t" style="left:266.50px;top:466.00px;font-size:12.80px;line-height:12.80px;color:#8a8a8a;transform:scaleX(0.9394);transform-origin:0 0;">не н...</div>
<div class="r" style="left:327.80px;top:468.60px;width:8.60px;height:8.60px;background:#9b9b9b;border-radius:50%;"></div>
<div id="t136" class="t" style="left:345.30px;top:466.00px;font-size:12.80px;line-height:12.80px;color:#222;transform:scaleX(0.9000);transform-origin:0 0;">О</div>
<div class="r" style="left:382.50px;top:471.80px;width:2.20px;height:2.20px;background:#b5b5b5;border-radius:50%;"></div>
<div class="r" style="left:388.10px;top:471.80px;width:2.20px;height:2.20px;background:#b5b5b5;border-radius:50%;"></div>
<div class="r" style="left:393.70px;top:471.80px;width:2.20px;height:2.20px;background:#b5b5b5;border-radius:50%;"></div>
<svg class="s" style="left:187.20px;top:497.40px;" width="16.00" height="16.00" viewBox="0 0 16.00 16.00"><circle cx="8" cy="8" r="6.9" fill="none" stroke="#3d72c9" stroke-width="1.2"/><path d="M8 4 V12 M4 8 H12" stroke="#3d72c9" stroke-width="1.1"/></svg>
<div id="t137" class="t" style="left:215.10px;top:500.00px;font-size:12.80px;line-height:12.80px;color:#3e70c5;transform:scaleX(0.9647);transform-origin:0 0;">Добавить задачу</div>
<div class="r" style="left:320.50px;top:497.90px;width:1.20px;height:16.00px;background:#8eafe2;"></div>
<div id="t138" class="t" style="left:326.90px;top:500.00px;font-size:12.80px;line-height:12.80px;color:#3e70c5;transform:scaleX(0.9724);transform-origin:0 0;">Добавить веху</div>
<svg class="s" style="left:167.80px;top:528.80px;" width="16.00" height="16.00" viewBox="0 0 16.00 16.00"><circle cx="8" cy="8" r="6.9" fill="none" stroke="#3d72c9" stroke-width="1.2"/><path d="M8 4 V12 M4 8 H12" stroke="#3d72c9" stroke-width="1.1"/></svg>
<div id="t139" class="t" style="left:195.70px;top:531.00px;font-size:12.80px;line-height:12.80px;color:#3e70c5;transform:scaleX(0.9647);transform-origin:0 0;">Добавить задачу</div>
<div class="r" style="left:301.10px;top:529.30px;width:1.20px;height:16.00px;background:#8eafe2;"></div>
<div id="t140" class="t" style="left:307.50px;top:531.00px;font-size:12.80px;line-height:12.80px;color:#3e70c5;transform:scaleX(0.9724);transform-origin:0 0;">Добавить веху</div>
<div class="r" style="left:438.50px;top:173.00px;width:1.20px;height:483.00px;background:#ff8f8f;"></div>
<div class="r" style="left:439.00px;top:186.00px;width:1121.00px;height:6.80px;background:#9e9e9e;"></div>
<div class="r" style="left:435.00px;top:183.00px;width:3.00px;height:12.00px;background:#979797;"></div>
<div class="r" style="left:439.00px;top:173.60px;width:59.00px;height:23.10px;background:#ffabab;"></div>
<div id="t141" class="t" style="left:444.70px;top:179.00px;font-size:13.00px;line-height:13.00px;color:#fff;transform:scaleX(0.9421);transform-origin:0 0;">Сегодня</div>
<div class="r" style="left:435.20px;top:228.20px;width:798.60px;height:4.60px;background:#f9ce90;"></div>
<div id="t142" class="t" style="left:441.50px;top:212.00px;font-size:12.50px;line-height:12.50px;color:#b3852f;font-weight:bold;">Аналитика и проектирование</div>
<div class="r" style="left:631.00px;top:214.60px;width:1.20px;height:5.00px;background:#cfae78;"></div>
<div id="t143" class="t" style="left:636.40px;top:212.00px;font-size:12.60px;line-height:12.60px;color:#c29a55;transform:scaleX(0.9967);transform-origin:0 0;">02.03.2026 - 31.03.2026</div>
<div class="r" style="left:1234.10px;top:386.20px;width:326.00px;height:4.60px;background:#f25454;"></div>
<div id="t144" class="t" style="left:1240.40px;top:370.00px;font-size:12.50px;line-height:12.50px;color:#922b2b;font-weight:bold;">Разработка и интеграция</div>
<div class="r" style="left:1402.50px;top:372.60px;width:1.20px;height:5.00px;background:#c08080;"></div>
<div id="t145" class="t" style="left:1409.20px;top:370.00px;font-size:12.60px;line-height:12.60px;color:#a35555;transform:scaleX(0.9924);transform-origin:0 0;">01.04.2026 - 15.05.2026</div>
<div class="r" style="left:435.30px;top:240.90px;width:226.40px;height:22.90px;background:#52c6d6;border-radius:2.5px;border:1px solid #40bed0;"></div>
<div id="t146" class="t" style="left:464.50px;top:245.00px;font-size:13.00px;line-height:13.00px;color:#fff;transform:scaleX(0.9663);transform-origin:0 0;">Сбор требований от отделов</div>
<div class="r" style="left:662.80px;top:272.90px;width:270.80px;height:22.20px;background:#52c6d6;border-radius:2.5px;border:1px solid #40bed0;"></div>
<div id="t147" class="t" style="left:745.75px;top:276.00px;font-size:13.00px;line-height:13.00px;color:#fff;transform:scaleX(0.9585);transform-origin:0 0;">Формирование ТЗ</div>
<div class="r" style="left:989.30px;top:303.80px;width:243.30px;height:22.70px;background:#52c6d6;border-radius:2.5px;border:1px solid #40bed0;"></div>
<div id="t148" class="t" style="left:1023.27px;top:308.00px;font-size:13.00px;line-height:13.00px;color:#fff;transform:scaleX(0.9751);transform-origin:0 0;">Проектирование архитектуры</div>
<div class="r" style="left:1234.20px;top:399.20px;width:80.50px;height:21.30px;background:#52c6d6;border-radius:2.5px;border:1px solid #40bed0;box-shadow:0 1px 4px rgba(0,0,0,0.25);"></div>
<div id="t149" class="t" style="left:1234.81px;top:402.00px;font-size:13.00px;line-height:13.00px;color:#fff;transform:scaleX(0.9896);transform-origin:0 0;">Разработка...</div>
<div class="r" style="left:1370.80px;top:429.90px;width:134.30px;height:22.40px;background:#52c6d6;border-radius:2.5px;border:1px solid #40bed0;"></div>
<div id="t150" class="t" style="left:1379.28px;top:433.00px;font-size:13.00px;line-height:13.00px;color:#fff;transform:scaleX(0.9717);transform-origin:0 0;">Разработка frontend</div>
<svg class="s" style="left:0;top:0" width="1560" height="656"><path d="M661.7 251.0 L674.6 251.0 L674.6 266.5 L649.5 266.5 L649.5 282.6 L660.6 282.6" fill="none" stroke="#fdc36c" stroke-width="2" stroke-linejoin="miter"/><path d="M660.6 282.6 L655.8 279.0 L655.8 286.2 Z" fill="#fdc36c"/></svg>
<svg class="s" style="left:0;top:0" width="1560" height="656"><path d="M933.6 282.4 L945.5 282.4 L945.5 314.4 L986.8 314.4" fill="none" stroke="#fdc36c" stroke-width="2" stroke-linejoin="miter"/><path d="M986.8 314.4 L982.0 310.8 L982.0 318.0 Z" fill="#fdc36c"/></svg>
<svg class="s" style="left:0;top:0" width="1560" height="656"><path d="M1232.6 313.5 L1245.3 313.5 L1245.3 330.2 L1221.6 330.2 L1221.6 408.2 L1231.8 408.2" fill="none" stroke="#fdc36c" stroke-width="2" stroke-linejoin="miter"/><path d="M1231.8 408.2 L1227.0 404.6 L1227.0 411.8 Z" fill="#fdc36c"/></svg>
<svg class="s" style="left:0;top:0" width="1560" height="656"><path d="M1314.7 408.0 L1326.9 408.0 L1326.9 439.6 L1368.0 439.6" fill="none" stroke="#fdc36c" stroke-width="2" stroke-linejoin="miter"/><path d="M1368.0 439.6 L1363.2 436.0 L1363.2 443.2 Z" fill="#fdc36c"/></svg>
<svg class="s" style="left:0;top:0" width="1560" height="656"><path d="M1505.1 439.6 L1518.5 439.6 L1518.5 471.2 L1559.5 471.2" fill="none" stroke="#fdc36c" stroke-width="2" stroke-linejoin="miter"/><path d="M1559.5 471.2 L1554.7 467.6 L1554.7 474.8 Z" fill="#fdc36c"/></svg>
<div class="r" style="left:415.80px;top:440.30px;width:20.80px;height:27.20px;background:#b4b4b4;border-radius:0 5px 5px 0;"></div>
<svg class="s" style="left:418.00px;top:447.00px;" width="16.00" height="14.00" viewBox="0 0 16.00 14.00"><path d="M2 7 H10.5 M5.8 3 L2 7 L5.8 11" fill="none" stroke="#fff" stroke-width="1.6"/><path d="M13.2 1.5 V12.5" stroke="#fff" stroke-width="1.8"/></svg>
<div class="r" style="left:0.00px;top:0.00px;width:1.20px;height:656.00px;background:#34332f;"></div>
<div class="r" style="left:1.20px;top:2.00px;width:41.60px;height:654.00px;background:#02574c;"></div>
<div class="r" style="left:1.20px;top:2.00px;width:41.60px;height:1.00px;background:#043b33;"></div>
<svg class="s" style="left:8.80px;top:13.40px;" width="26.00" height="27.00" viewBox="0 0 26.00 27.00"><path d="M3 0.5 H22.5 Q24.5 0.5 24.5 2.5 V4 Q24.5 6 22.5 6 H6.5 V20.5 H18.5 V16 H13 Q11 16 11 14 V13.2 Q11 11.2 13 11.2 H22.5 Q24.5 11.2 24.5 13.2 V24 Q24.5 26 22.5 26 H3 Q1 26 1 24 V2.5 Q1 0.5 3 0.5 Z" fill="#fff"/></svg>
<svg class="s" style="left:10.50px;top:57.00px;" width="23.00" height="23.00" viewBox="0 0 23.00 23.00"><circle cx="11.4" cy="11.4" r="11.3" fill="#fff"/><path d="M11.4 5.2 V17.6 M5.2 11.4 H17.6" stroke="#02574c" stroke-width="2.2"/></svg>
<div class="r" style="left:7.70px;top:98.50px;width:29.20px;height:28.30px;background:#033e35;border-radius:4px;"></div>
<svg class="s" style="left:13.50px;top:106.00px;" width="17.00" height="15.00" viewBox="0 0 17.00 15.00"><path d="M1.6 2.8 Q1.6 1.4 3 1.4 H6.2 L7.9 3.3 H14 Q15.4 3.3 15.4 4.7 V12.1 Q15.4 13.5 14 13.5 H3 Q1.6 13.5 1.6 12.1 Z" fill="none" stroke="#fff" stroke-width="1.5" stroke-linejoin="round"/></svg>
<svg class="s" style="left:14.00px;top:143.50px;" width="16.00" height="14.00" viewBox="0 0 16.00 14.00"><rect x="1" y="3.6" width="14" height="9.6" rx="1.2" fill="none" stroke="#fff" stroke-width="1.4"/><path d="M5.2 3.6 V1.5 H10.8 V3.6" fill="none" stroke="#fff" stroke-width="1.4"/></svg>
<svg class="s" style="left:14.00px;top:182.00px;" width="16.00" height="11.00" viewBox="0 0 16.00 11.00"><path d="M4.2 1.3 H15 M4.2 5.4 H15 M4.2 9.6 H15" stroke="#fff" stroke-width="1.4"/><path d="M0.6 1.3 H2 M0.6 5.4 H2 M0.6 9.6 H2" stroke="#fff" stroke-width="1.4"/></svg>
<svg class="s" style="left:13.50px;top:217.30px;" width="17.00" height="17.00" viewBox="0 0 17.00 17.00"><circle cx="8.5" cy="8.5" r="7.5" fill="none" stroke="#fff" stroke-width="1.4"/><path d="M8.2 3.8 V8.6 L11.2 11.4" fill="none" stroke="#fff" stroke-width="1.4"/></svg>
<svg class="s" style="left:15.00px;top:256.00px;" width="15.00" height="16.00" viewBox="0 0 15.00 16.00"><path d="M1.2 2.4 Q1.2 1.2 2.4 1.2 H8.6 L13.3 5.9 V13.2 Q13.3 14.4 12.1 14.4 H2.4 Q1.2 14.4 1.2 13.2 Z" fill="none" stroke="#fff" stroke-width="1.4" stroke-linejoin="round"/><path d="M5.2 12 V8.5 M8.6 12 V6.8" stroke="#fff" stroke-width="1.5"/></svg>
<svg class="s" style="left:16.30px;top:295.60px;" width="12.00" height="12.00" viewBox="0 0 12.00 12.00"><rect x="0.8" y="0.8" width="4.3" height="4.3" rx="1.1" fill="none" stroke="#fff" stroke-width="1.2"/><rect x="0.8" y="6.8" width="4.3" height="4.3" rx="1.1" fill="none" stroke="#fff" stroke-width="1.2"/><rect x="6.8" y="0.8" width="4.3" height="4.3" rx="1.1" fill="none" stroke="#fff" stroke-width="1.2"/><rect x="6.8" y="6.8" width="4.3" height="4.3" rx="1.1" fill="none" stroke="#fff" stroke-width="1.2"/></svg>
<div class="r" style="left:11.90px;top:323.90px;width:21.00px;height:1.20px;background:#4b847b;"></div>
<svg class="s" style="left:14.00px;top:340.50px;" width="16.00" height="16.00" viewBox="0 0 16.00 16.00"><path d="M2.4 1.3 H13.6 Q14.8 1.3 14.8 2.5 V10 Q14.8 11.2 13.6 11.2 H7.6 L4.6 14 V11.2 H2.4 Q1.2 11.2 1.2 10 V2.5 Q1.2 1.3 2.4 1.3 Z" fill="none" stroke="#fff" stroke-width="1.4" stroke-linejoin="round"/></svg>
<svg class="s" style="left:15.00px;top:377.00px;transform:scaleX(-1);" width="15.00" height="16.00" viewBox="0 0 15.00 16.00"><path d="M12.6 4.4 L5.4 11.8 Q4.2 13 5.2 14 Q6.2 15 7.4 13.8 L13.4 7.6 Q15.4 5.4 13.4 3.4 Q11.4 1.4 9.2 3.5 L2.6 10.3 Q0.4 12.6 2.5 14.6" fill="none" stroke="#fff" stroke-width="1.3" stroke-linecap="round"/></svg>
<div class="r" style="left:1.20px;top:400.50px;width:33.00px;height:205.00px;background:#fde9cf;border-radius:0 4px 4px 0;"></div>
<div class="r" style="left:5.50px;top:409.30px;width:24.40px;height:74.00px;background:#fd960c;border-radius:4px;"></div>
<div id="t151" class="t" style="left:16.00px;top:446.70px;font-size:13.00px;line-height:13.00px;color:#fff;font-weight:bold;transform:translate(-50%,-50%) rotate(-90deg) scaleX(0.9159);transform-origin:50% 50%;">Улучшить</div>
<div id="t152" class="t" style="left:15.80px;top:544.30px;font-size:13.20px;line-height:13.20px;color:#333;transform:translate(-50%,-50%) rotate(-90deg) scaleX(0.9495);transform-origin:50% 50%;">Осталось дней 14</div>
<svg class="s" style="left:15.00px;top:629.00px;" width="14.00" height="15.00" viewBox="0 0 14.00 15.00"><path d="M2 11.6 H12 L10.6 9.6 V6.4 Q10.6 2.6 7 2.4 Q3.4 2.6 3.4 6.4 V9.6 Z" fill="none" stroke="#dce8e5" stroke-width="1.3" stroke-linejoin="round"/><path d="M5.6 13.2 Q7 14.6 8.4 13.2" fill="none" stroke="#fff" stroke-width="1.2"/><path d="M7 0.6 V2.4" stroke="#fff" stroke-width="1.3"/></svg>
<div class="r" style="left:21.40px;top:642.00px;width:16.90px;height:9.60px;background:#fff;border-radius:3px;"></div>
<div id="t153" class="t" style="left:30.20px;top:642.00px;font-size:9.50px;line-height:9.50px;color:#333;transform:translateX(-50%);">1</div>
</body></html>
